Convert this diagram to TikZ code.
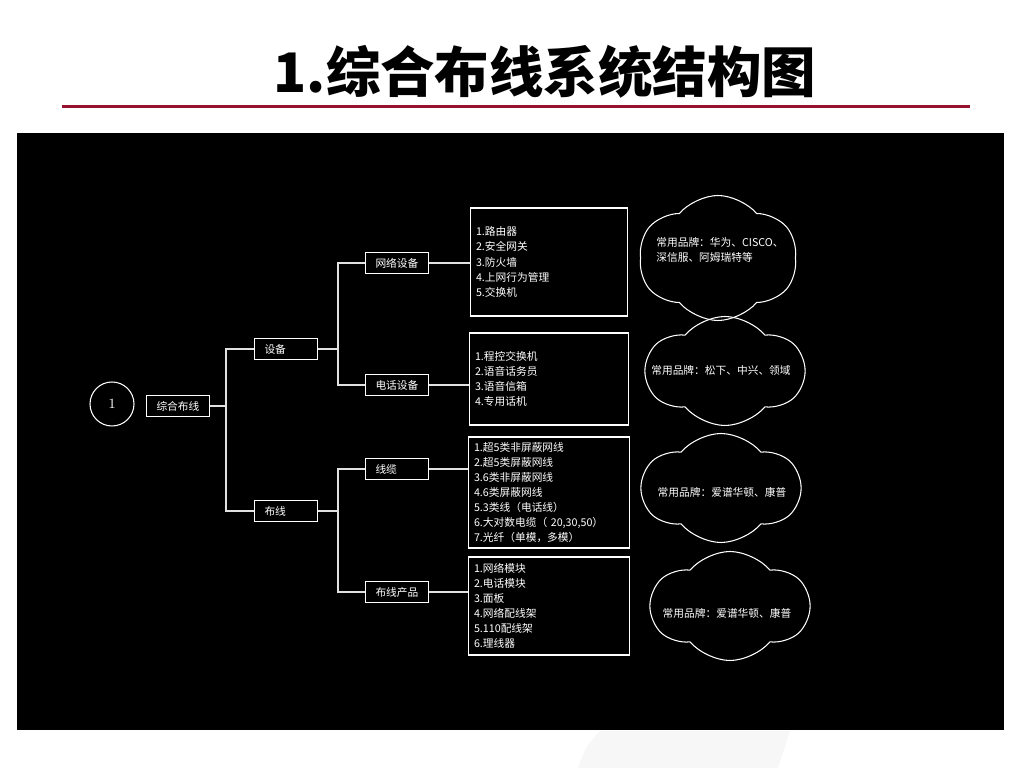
\documentclass[tikz,border=0pt]{standalone}
\usepackage{fontspec}
\newfontfamily\cjk{Noto Sans CJK SC}
\usepackage{xcolor}
\usetikzlibrary{shapes.symbols, shapes.geometric, positioning, calc}

\definecolor{rulered}{RGB}{150,18,45}
\definecolor{linegray}{RGB}{225,225,225}

\tikzset{
  item/.style={draw=white, line width=0.6pt, text=white, font=\cjk\fontsize{6.1pt}{7pt}\selectfont,
    align=left, text width=8.6mm, inner xsep=2mm, inner ysep=0pt, minimum height=4.2mm},
  list/.style={draw=white, line width=0.8pt, text=white, font=\cjk\fontsize{6.1pt}{8.6pt}\selectfont,
    align=left, inner xsep=1.1mm, inner ysep=0pt},
  brand/.style={cloud, cloud puffs=6, cloud puff arc=100, cloud ignores aspect, draw=white,
    line width=0.6pt, inner sep=0pt, minimum width=31.6mm, minimum height=21.8mm},
  brandtxt/.style={text=white, font=\cjk\fontsize{6.1pt}{9pt}\selectfont, align=left, inner sep=0pt},
  link/.style={draw=linegray, line width=0.8pt},
}

\begin{document}
\begin{tikzpicture}[x=0.2mm, y=-0.2mm]
    \useasboundingbox (0,0) rectangle (1024,768);
    \fill[gray!6] (578,768) .. controls (586,746) .. (600,731) -- (790,731) .. controls (784,750) .. (778,768) -- cycle;

    % Title
    \node[font=\cjk\bfseries\fontsize{31pt}{31pt}\selectfont] (title) at (545,72) {1.综合布线系统结构图};
    \draw[rulered, line width=1.7pt] (62,107) -- (970,107);

    % Black panel
    \fill[black] (17,133) rectangle (1004,730);

    % Tree
    \node[circle, draw=white, line width=0.6pt, minimum size=8.8mm, inner sep=0pt, text=white, font=\fontsize{8pt}{8pt}\selectfont] (num) at (112,404) {1};
    \node[item] (zh) at (178,406) {综合布线};
    \node[item] (sb) at (286,349) {设备};
    \node[item] (bx) at (286,511) {布线};
    \node[item] (wl) at (397,263) {网络设备};
    \node[item] (dh) at (397,385) {电话设备};
    \node[item] (xl) at (397,469) {线缆};
    \node[item] (cp) at (397,592) {布线产品};

    \coordinate (j0) at (226,406);
    \coordinate (j1) at (338,349);
    \coordinate (j2) at (338,511);
    \draw[link] (zh.east) -- (j0) |- (sb.west);
    \draw[link] (j0) |- (bx.west);
    \draw[link] (sb.east) -- (j1) |- (wl.west);
    \draw[link] (j1) |- (dh.west);
    \draw[link] (bx.east) -- (j2) |- (xl.west);
    \draw[link] (j2) |- (cp.west);

    % Product lists
    \node[list, text width=29.2mm, minimum height=21.6mm] (l1) at (549,262)
      {1.路由器\\2.安全网关\\3.防火墙\\4.上网行为管理\\5.交换机};
    \node[list, text width=29.6mm, minimum height=18.4mm] (l2) at (549,379)
      {1.程控交换机\\2.语音话务员\\3.语音信箱\\4.专用话机};
    \node[list, text width=30mm, minimum height=22.2mm] (l3) at (549,492.5)
      {1.超5类非屏蔽网线\\2.超5类屏蔽网线\\3.6类非屏蔽网线\\4.6类屏蔽网线\\5.3类线（电话线）\\6.大对数电缆（ 20,30,50）\\7.光纤（单模，多模）};
    \node[list, text width=30mm, minimum height=19.6mm] (l4) at (549,606)
      {1.网络模块\\2.电话模块\\3.面板\\4.网络配线架\\5.110配线架\\6.理线器};

    \draw[link] (wl.east) -- (wl.east -| l1.west);
    \draw[link] (dh.east) -- (dh.east -| l2.west);
    \draw[link] (xl.east) -- (xl.east -| l3.west);
    \draw[link] (cp.east) -- (cp.east -| l4.west);

    % Brands
    \node[brand, minimum height=25mm] (b1) at (718,258) {};
    \node[brand] (b2) at (725,371) {};
    \node[brand] (b3) at (721,488) {};
    \node[brand] (b4) at (730,606) {};
    \node[brandtxt] (t1) at (720,250) {常用品牌：华为、CISCO、\\深信服、阿姆瑞特等};
    \node[brandtxt] (t2) at (721,370) {常用品牌：松下、中兴、领域};
    \node[brandtxt] (t3) at (722,492) {常用品牌：爱谱华顿、康普};
    \node[brandtxt] (t4) at (727,613) {常用品牌：爱谱华顿、康普};
\end{tikzpicture}
\end{document}
